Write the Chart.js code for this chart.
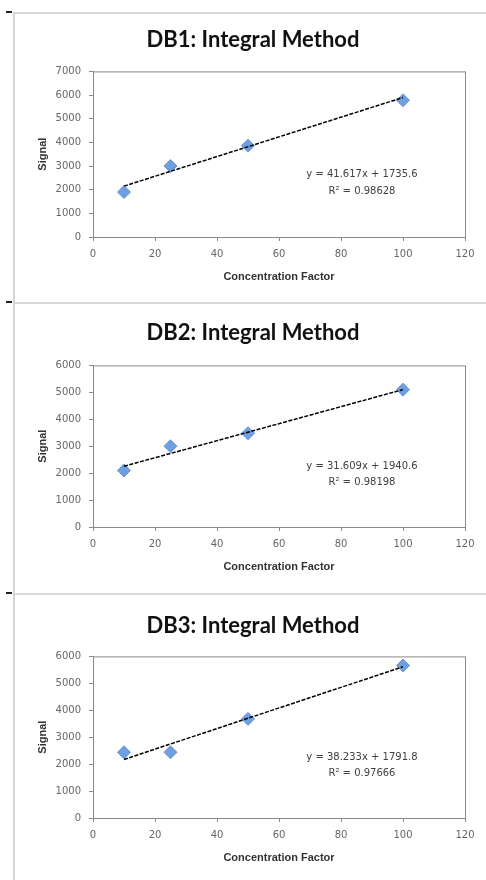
<!DOCTYPE html>
<html>
<head>
<meta charset="utf-8">
<script src="https://cdn.jsdelivr.net/npm/chart.js@4.4.1/dist/chart.umd.min.js"></script>
<style>
  body { margin: 0; background: #fff; width: 486px; height: 880px; position: relative; overflow: hidden; }
  .vline { position: absolute; left: 13px; top: 12px; width: 2px; height: 868px; background: #d4d4d4; }
  .hline { position: absolute; left: 13px; width: 473px; height: 2px; background: #d9d9d9; }
  .dash { position: absolute; left: 6px; width: 6px; height: 2px; background: #222; }
  .panel { position: absolute; left: 15px; width: 471px; height: 284px; }
</style>
</head>
<body>
<div class="vline"></div>
<div class="hline" style="top:12px"></div>
<div class="hline" style="top:302px"></div>
<div class="hline" style="top:593px"></div>
<div class="dash" style="top:11px"></div>
<div class="dash" style="top:301px"></div>
<div class="dash" style="top:592px"></div>
<div class="panel" style="top:14px"><canvas id="db1Chart"></canvas></div>
<div class="panel" style="top:304px"><canvas id="db2Chart"></canvas></div>
<div class="panel" style="top:595px"><canvas id="db3Chart"></canvas></div>
<script>
// concentration factors (same for all three)
const concentration = [10, 25, 50, 100];

// signal values
const db1Signal = [1900, 3000, 3860, 5780];
const db2Signal = [2100, 3000, 3480, 5100];
const db3Signal = [2440, 2440, 3680, 5660];

// trendline equations shown on each chart
const slopes = [41.617, 31.609, 38.233];
const intercepts = [1735.6, 1940.6, 1791.8];
const rSquared = ['0.98628', '0.98198', '0.97666'];

const titles = ['DB1: Integral Method', 'DB2: Integral Method', 'DB3: Integral Method'];
const yMax = [7000, 6000, 6000];

// plot area border + equation text
const excelBits = {
    id: 'excelBits',
    afterDraw(chart, args, opts) {
        const ctx = chart.ctx;
        const a = chart.chartArea;
        ctx.save();
        ctx.strokeStyle = '#8a8a8a';
        ctx.lineWidth = 1;
        ctx.strokeRect(a.left + 0.5, a.top + 0.5, a.right - a.left, a.bottom - a.top);
        ctx.fillStyle = '#404040';
        ctx.font = '10px "DejaVu Sans"';
        ctx.textAlign = 'center';
        ctx.textBaseline = 'middle';
        const cx = a.left + (a.right - a.left) * 0.723;
        ctx.fillText(opts.eq, cx, a.top + (a.bottom - a.top) * 0.625);
        ctx.fillText(opts.r2, cx, a.top + (a.bottom - a.top) * 0.722);
        ctx.restore();
    }
};

const tickFont = { family: '"DejaVu Sans"', size: 10 };
const axisTitleFont = { family: '"Liberation Sans"', size: 11, weight: 'bold', lineHeight: 1.2 };
const titlePads = [{ top: 13, bottom: 18 }, { top: 16, bottom: 19 }, { top: 18, bottom: 17 }];

function makeChart(id, i, signal) {
    const trendX = [concentration[0], concentration[concentration.length - 1]];
    const trend = trendX.map(x => ({ x: x, y: intercepts[i] + slopes[i] * x }));
    return new Chart(document.getElementById(id), {
        type: 'scatter',
        data: {
            datasets: [{
                type: 'line',
                data: trend,
                borderColor: '#000',
                borderWidth: 1.5,
                borderDash: [4, 1.5],
                pointRadius: 0,
                fill: false
            }, {
                data: concentration.map((x, k) => ({ x: x, y: signal[k] })),
                pointStyle: 'rectRot',
                pointRadius: 6.5,
                backgroundColor: '#6f9fdf',
                borderColor: '#6496d9',
                borderWidth: 1
            }]
        },
        plugins: [excelBits],
        options: {
            responsive: true,
            maintainAspectRatio: false,
            animation: false,
            layout: { padding: { left: 5, right: 0, top: 0, bottom: 0 } },
            plugins: {
                legend: { display: false },
                tooltip: { enabled: false },
                title: {
                    display: true,
                    text: titles[i],
                    color: '#111',
                    font: { family: 'Lato', size: 22, weight: 'bold', lineHeight: 1.2 },
                    padding: titlePads[i]
                },
                excelBits: { eq: 'y = ' + slopes[i] + 'x + ' + intercepts[i], r2: 'R\u00b2 = ' + rSquared[i] }
            },
            scales: {
                x: {
                    type: 'linear',
                    min: 0,
                    max: 120,
                    afterFit: (s) => { s.height = 284 - 223; },
                    ticks: { stepSize: 20, font: tickFont, color: '#666', padding: 7 },
                    grid: { drawOnChartArea: false, tickLength: 4, color: '#8a8a8a' },
                    border: { color: '#8a8a8a' },
                    title: {
                        display: true,
                        text: 'Concentration Factor',
                        color: '#333',
                        font: axisTitleFont,
                        padding: { top: 0, bottom: 14 }
                    }
                },
                y: {
                    min: 0,
                    max: yMax[i],
                    afterFit: (s) => { s.width = 73; },
                    ticks: { stepSize: 1000, font: tickFont, color: '#666', padding: 8, callback: (v) => String(v) },
                    grid: { drawOnChartArea: false, tickLength: 4, color: '#8a8a8a' },
                    border: { color: '#8a8a8a' },
                    title: {
                        display: true,
                        text: 'Signal',
                        color: '#333',
                        font: axisTitleFont,
                        padding: { top: 16, bottom: 0 }
                    }
                },
                // empty strip on the right so the title centres like the original
                yRight: {
                    position: 'right',
                    min: 0,
                    max: 1,
                    afterFit: (s) => { s.width = 21; },
                    ticks: { display: false },
                    grid: { display: false },
                    border: { display: false }
                }
            }
        }
    });
}

var db1Chart = makeChart('db1Chart', 0, db1Signal);
var db2Chart = makeChart('db2Chart', 1, db2Signal);
var db3Chart = makeChart('db3Chart', 2, db3Signal);
</script>
</body>
</html>
